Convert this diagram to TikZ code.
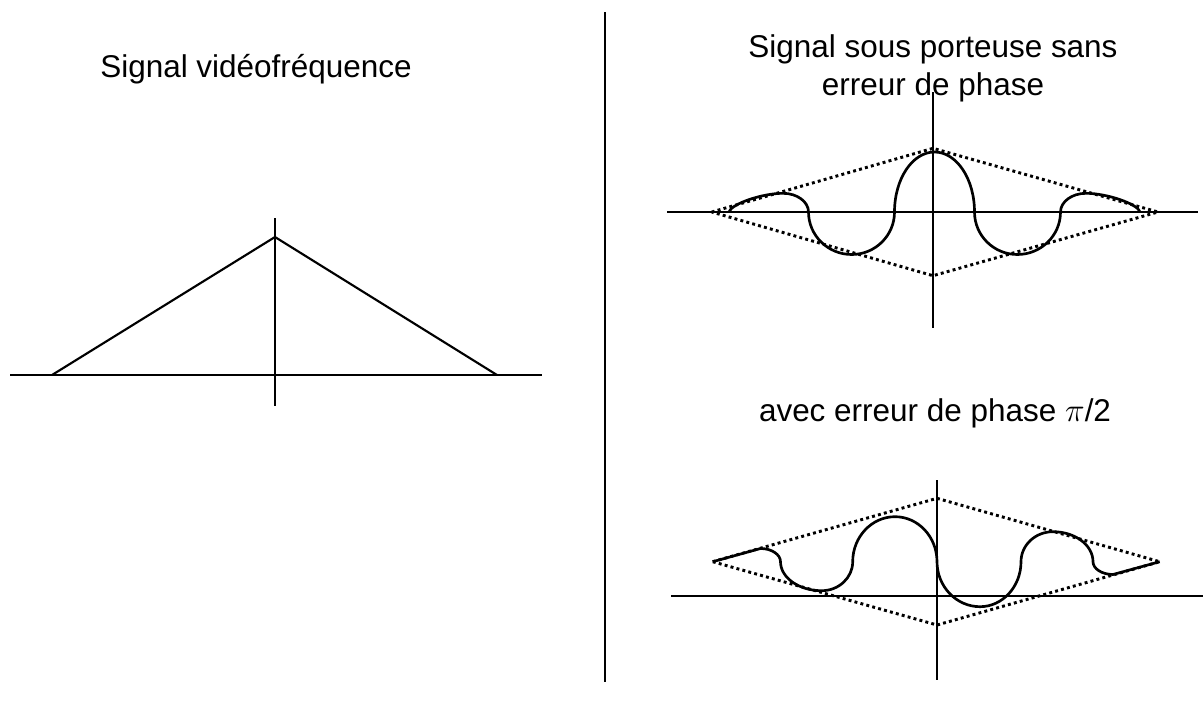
\documentclass[tikz,border=0pt]{standalone}
\usepackage{fontspec}
\setmainfont{Liberation Sans}
\begin{document}
\begin{tikzpicture}[x=0.75pt,y=-0.75pt,
  axis/.style={line width=1.6pt},
  sig/.style={line width=2pt, line join=round},
  envl/.style={line width=2.2pt, dash pattern=on 2.2pt off 2.4pt},
  lbl/.style={font=\fontsize{23.6}{28}\selectfont, inner sep=0pt, anchor=base}]
\useasboundingbox (0,0) rectangle (1203,711);

% ---- left: video signal ----
\coordinate (L1) at (10,375);
\coordinate (L2) at (542,375);
\coordinate (V1) at (275,218);
\coordinate (V2) at (275,406);
\coordinate (TA) at (52,375);
\coordinate (TP) at (275,237);
\coordinate (TB) at (497,375);
\draw[axis] (L1) -- (L2);
\draw[axis] (V1) -- (V2);
\draw[axis] (TA) -- (TP) -- (TB);
\node[lbl] (t1) at (256,77) {Signal vidéofréquence};

% ---- divider ----
\coordinate (D1) at (605,12);
\coordinate (D2) at (605,682);
\draw[axis] (D1) -- (D2);

% ---- top right: no phase error ----
\coordinate (A1) at (667,212);
\coordinate (A2) at (1198,212);
\coordinate (B1) at (933,92);
\coordinate (B2) at (933,328);
\draw[axis] (A1) -- (A2);
\draw[axis] (B1) -- (B2);
\coordinate (EL) at (711.7,212);
\coordinate (ET) at (933,148.3);
\coordinate (ER) at (1158,212);
\coordinate (EB) at (933,275.7);
\draw[envl] (EL) -- (ET) -- (ER) -- (EB) -- cycle;
\coordinate (S0) at (729,212);
\coordinate (S9) at (1140,212);
\draw[sig] (S0)
  .. controls (731,204) and (762,193.3) .. (783,193.3)
  .. controls (797.1,193.3) and (808.5,201.7) .. (808.5,212)
  .. controls (808.5,235.5) and (827.9,254.5) .. (851.7,254.5)
  .. controls (875.3,254.5) and (894.5,235.5) .. (894.5,212)
  .. controls (894.5,178.9) and (912.4,152) .. (934.5,152)
  .. controls (956.6,152) and (974.5,178.9) .. (974.5,212)
  .. controls (974.5,235.5) and (993.7,254.5) .. (1017.3,254.5)
  .. controls (1041.1,254.5) and (1060.5,235.5) .. (1060.5,212)
  .. controls (1060.5,201.7) and (1071.9,193.3) .. (1086,193.3)
  .. controls (1107,193.3) and (1138,204) .. (S9);
\node[lbl] (t2) at (933,57.5) {Signal sous porteuse sans};
\node[lbl] (t3) at (933,95.3) {erreur de phase};

% ---- bottom right: phase error pi/2 ----
\coordinate (C1) at (671,596);
\coordinate (C2) at (1203,596);
\coordinate (G1) at (937,480);
\coordinate (G2) at (937,680);
\draw[axis] (C1) -- (C2);
\draw[axis] (G1) -- (G2);
\coordinate (FL) at (712.7,561.7);
\coordinate (FT) at (937,498.3);
\coordinate (FR) at (1159.7,561.7);
\coordinate (FB) at (937,625);
\draw[envl] (FL) -- (FT) -- (FR) -- (FB) -- cycle;
\draw[sig] (FL) -- (760.5,548.5)
  .. controls (771.5,548.5) and (780.5,554.4) .. (780.5,561.7)
  .. controls (780.5,577.7) and (799,590.7) .. (821.7,590.7)
  .. controls (838.8,590.7) and (852.7,577.7) .. (852.7,561.7)
  .. controls (852.7,536.9) and (871.7,516.7) .. (895,516.7)
  .. controls (918.2,516.7) and (937,536.9) .. (937,561.7)
  .. controls (937,586.5) and (956.3,606.7) .. (980,606.7)
  .. controls (1002.6,606.7) and (1021,586.5) .. (1021,561.7)
  .. controls (1021,545.1) and (1035.3,531.7) .. (1053,531.7)
  .. controls (1075.1,531.7) and (1093,545.1) .. (1093,561.7)
  .. controls (1093,568.8) and (1102,574.5) .. (1113,574.5)
  -- (FR);
\node[lbl] (t4) at (935,421.7) {avec erreur de phase $\pi$/2};
\end{tikzpicture}
\end{document}
